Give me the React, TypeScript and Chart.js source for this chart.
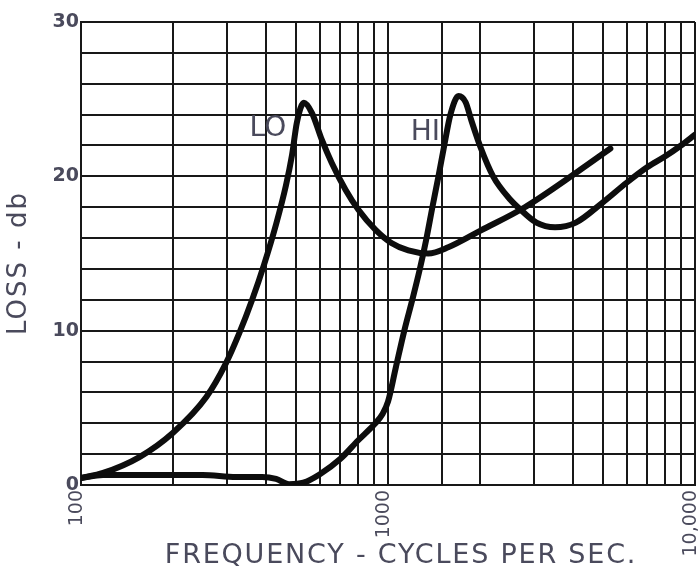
import React, { useEffect, useRef } from 'react';
import { Chart, registerables } from 'chart.js';
Chart.register(...registerables);

// LO curve (frequency in c/s, loss in db)
const loFreq = [100, 118, 155, 199, 256, 297, 328, 361, 395, 432, 465, 487, 505, 532, 565, 609, 656, 728, 802, 911, 1026, 1165, 1353, 1571, 2009, 2790, 4145, 5300];
const loDb = [0.45, 0.78, 1.81, 3.37, 5.7, 7.91, 9.85, 12.0, 14.3, 16.9, 19.4, 21.4, 23.5, 24.76, 24.11, 22.36, 20.87, 19.12, 17.82, 16.53, 15.68, 15.2, 15.0, 15.4, 16.5, 18.0, 20.3, 21.8];

// HI curve
const hiFreq = [100, 118, 249, 320, 389, 432, 476, 530, 600, 700, 800, 900, 960, 1000, 1060, 1130, 1200, 1270, 1335, 1395, 1460, 1525, 1597, 1698, 1790, 1870, 2000, 2200, 2500, 2650, 3045, 3500, 4090, 5000, 6000, 7000, 8000, 9000, 10000];
const hiDb = [0.45, 0.65, 0.65, 0.52, 0.52, 0.39, 0.05, 0.15, 0.7, 1.7, 2.9, 3.9, 4.6, 5.4, 7.6, 10.0, 12.0, 14.0, 16.0, 18.0, 20.0, 22.0, 24.0, 25.2, 24.8, 23.6, 21.9, 20.0, 18.5, 18.0, 17.0, 16.7, 17.0, 18.3, 19.6, 20.6, 21.3, 22.0, 22.7];

// Tick labels
const xTickValues = [100, 1000, 10000];
const xTickLabels = ['100', '1000', '10,000'];
const yTickValues = [0, 10, 20, 30];
const yTickLabels = ['0', '10', '20', '30'];

// Curve labels (anchored at data values)
const curveLabelTexts = ['LO', 'HI'];
const curveLabelFreq = [466, 1477];
const curveLabelDb = [23.1, 22.8];

const xTitle = 'FREQUENCY - CYCLES PER SEC.';
const yTitle = 'LOSS - db';

export default function App() {
  const ref = useRef<HTMLCanvasElement>(null);
  useEffect(() => {
    const canvas = ref.current!;
    const textColor = '#4a4a5c';
    const lineColor = '#0d0d0d';
    const gridColor = '#181818';
    const textPlugin = {
      id: 'textDecor',
      afterDatasetsDraw(chart: any) {
        const { ctx, scales } = chart;
        ctx.save();
        ctx.font = '28px "DejaVu Sans"';
        ctx.fillStyle = textColor;
        ctx.textAlign = 'right';
        ctx.textBaseline = 'middle';
        curveLabelTexts.forEach((t, i) => {
          ctx.fillText(t, scales.x.getPixelForValue(curveLabelFreq[i]), scales.y.getPixelForValue(curveLabelDb[i]));
        });
        ctx.restore();
      },
      afterDraw(chart: any) {
        const { ctx } = chart;
        ctx.save();
        ctx.fillStyle = textColor;
        ctx.textAlign = 'center';
        ctx.textBaseline = 'middle';
        // x axis title
        ctx.font = '27px "DejaVu Sans"';
        (ctx as any).letterSpacing = '1.8px';
        ctx.fillText(xTitle, 401, 556);
        // y axis title
        ctx.font = '26px "DejaVu Sans"';
        (ctx as any).letterSpacing = '2px';
        ctx.translate(19, 263);
        ctx.rotate(-Math.PI / 2);
        ctx.fillText(yTitle, 0, 0);
        ctx.restore();
      },
    };
    const chart = new Chart(canvas, {
      type: 'line',
      data: {
        datasets: [
          {
            label: 'LO',
            data: loFreq.map((f, i) => ({ x: f, y: loDb[i] })),
            borderColor: lineColor,
            borderWidth: 6,
            pointRadius: 0,
            cubicInterpolationMode: 'monotone',
            fill: false,
            borderCapStyle: 'round',
            borderJoinStyle: 'round',
          },
          {
            label: 'HI',
            data: hiFreq.map((f, i) => ({ x: f, y: hiDb[i] })),
            borderColor: lineColor,
            borderWidth: 6,
            pointRadius: 0,
            cubicInterpolationMode: 'monotone',
            fill: false,
            borderCapStyle: 'round',
            borderJoinStyle: 'round',
          },
        ],
      },
      options: {
        responsive: false,
        animation: false,
        layout: { padding: { left: 0, right: 4, top: 22, bottom: 0 } },
        plugins: { legend: { display: false }, tooltip: { enabled: false } },
        scales: {
          x: {
            type: 'logarithmic',
            min: 100,
            max: 10000,
            afterFit(s: any) {
              s.height = 94;
              s.paddingLeft = 0;
              s.paddingRight = 0;
            },
            grid: { color: gridColor, lineWidth: 2, drawTicks: false },
            border: { color: gridColor, width: 2 },
            ticks: {
              autoSkip: false,
              minRotation: 90,
              maxRotation: 90,
              padding: 5,
              labelOffset: -4,
              color: textColor,
              font: { family: 'DejaVu Sans', size: 19 },
              callback: (v: any) => {
                const i = xTickValues.indexOf(Number(v));
                return i >= 0 ? xTickLabels[i] : '';
              },
            },
          },
          y: {
            min: 0,
            max: 30,
            afterFit(s: any) {
              s.width = 81;
            },
            grid: { color: gridColor, lineWidth: 2, drawTicks: false },
            border: { color: gridColor, width: 2 },
            ticks: {
              stepSize: 2,
              padding: 2,
              color: textColor,
              font: { family: 'DejaVu Sans', size: 19, weight: 'bold' },
              callback: (v: any) => {
                const i = yTickValues.indexOf(Number(v));
                return i >= 0 ? yTickLabels[i] : '';
              },
            },
          },
        },
      },
      plugins: [textPlugin],
    } as any);
    return () => chart.destroy();
  }, []);
  return (
    <div style={{ position: 'fixed', left: 0, top: 0, width: 699, height: 579, background: '#fff' }}>
      <canvas ref={ref} width={699} height={579} style={{ display: 'block' }} />
    </div>
  );
}
